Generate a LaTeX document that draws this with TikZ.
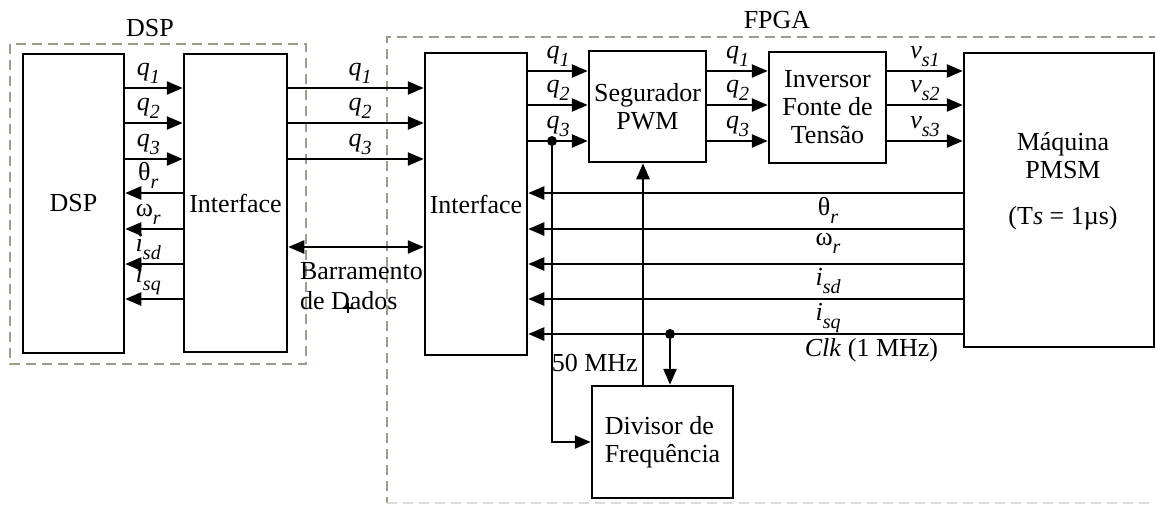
\documentclass[tikz,border=0pt]{standalone}
\usepackage{fontspec}
\setmainfont{Liberation Serif}
\usepackage{tikz}
\usetikzlibrary{arrows.meta,positioning,calc}
\definecolor{frame}{HTML}{9C9C8C}
\newcommand{\sig}[2]{{#1}\raisebox{-0.7ex}{\fontsize{10}{10}\selectfont\itshape #2}}

\begin{document}
\begin{tikzpicture}[x=0.5pt, y=-0.5pt,
  font=\fontsize{13}{14}\selectfont,
  blk/.style={draw, line width=1.25pt, align=center, inner sep=0pt},
  grp/.style={draw=frame, line width=0.8pt, dash pattern=on 5pt off 3pt},
  arr/.style={-{Triangle[length=8pt,width=6.5pt]}, line width=1.25pt},
  bus/.style={{Triangle[length=8pt,width=6.5pt]}-{Triangle[length=8pt,width=6.5pt]}, line width=1.25pt},
  sg/.style={inner sep=1.5pt, font=\fontsize{13}{14}\selectfont\itshape},
  dot/.style={circle, fill, inner sep=0pt, minimum size=5pt}
]
\useasboundingbox (0,0) rectangle (1155,505);
% group frames
\draw[grp] (10,44) rectangle (306,364);
\draw[grp] (1175,37) -- (387,37) -- (387,503);
\draw[grp, draw=frame!35] (387,503) -- (1175,503);
\node (tdsp) at (150,28) {DSP};
\node (tfpga) at (777,20) {FPGA};

% blocks
\node[blk, minimum width=50.5pt, minimum height=149.5pt] (dsp) at (73.5,203.5) {DSP};
\node[blk, minimum width=51.5pt, minimum height=149pt] (if1) at (235.5,203) {Interface};
\node[blk, minimum width=51pt, minimum height=151pt] (if2) at (476,204) {Interface};
\node[blk, minimum width=58.5pt, minimum height=55.5pt] (pwm) at (647.5,106.5) {Segurador\\PWM};
\node[blk, minimum width=58.5pt, minimum height=55.5pt] (inv) at (827.5,107.5) {Inversor\\Fonte de\\Tensão};
\node[blk, minimum width=95pt, minimum height=147pt] (mach) at (1059,200) {};
\node[align=center] (machlbl) at (1063,181) {Máquina\\PMSM\\[9pt](T\textit{s} = 1µs)};
\node[blk, minimum width=70.5pt, minimum height=56pt, align=left] (div) at (662.5,442) {Divisor de\\Frequência};

% signal rows
\coordinate (lq1) at (0,88);
\coordinate (lq2) at (0,123);
\coordinate (lq3) at (0,159);
\coordinate (lth) at (0,193);
\coordinate (lom) at (0,229);
\coordinate (lsd) at (0,264);
\coordinate (lsq) at (0,299);
\coordinate (lbus) at (0,247);
\coordinate (rq1) at (0,71);
\coordinate (rq2) at (0,105);
\coordinate (rq3) at (0,141);
\coordinate (rck) at (0,334);
\coordinate (c50) at (643,0);

% DSP <-> interface
\draw[arr] (dsp.east |- lq1) -- node[sg, above, pos=0.4] {\sig{q}{1}} (if1.west |- lq1);
\draw[arr] (dsp.east |- lq2) -- node[sg, above, pos=0.4] {\sig{q}{2}} (if1.west |- lq2);
\draw[arr] (dsp.east |- lq3) -- node[sg, above, pos=0.4] {\sig{q}{3}} (if1.west |- lq3);
\draw[arr] (if1.west |- lth) -- node[sg, above, pos=0.6] {\sig{\upshape θ}{r}} (dsp.east |- lth);
\draw[arr] (if1.west |- lom) -- node[sg, above, pos=0.6] {\sig{\upshape ω}{r}} (dsp.east |- lom);
\draw[arr] (if1.west |- lsd) -- node[sg, above, pos=0.6] {\sig{i}{sd}} (dsp.east |- lsd);
\draw[arr] (if1.west |- lsq) -- node[sg, above, pos=0.6] {\sig{i}{sq}} (dsp.east |- lsq);

% interface -> interface
\draw[arr] (if1.east |- lq1) -- node[sg, above, pos=0.53] {\sig{q}{1}} (if2.west |- lq1);
\draw[arr] (if1.east |- lq2) -- node[sg, above, pos=0.53] {\sig{q}{2}} (if2.west |- lq2);
\draw[arr] (if1.east |- lq3) -- node[sg, above, pos=0.53] {\sig{q}{3}} (if2.west |- lq3);
\draw[bus] (if1.east |- lbus) -- (if2.west |- lbus);
\node[anchor=north west, align=left, font=\fontsize{13}{15}\selectfont] (buslbl) at (293,255) {Barramento\\de Dados};
\draw[line width=0.6pt] (343,308) -- (353,308) (348,303) -- (348,313);

% FPGA chain
\draw[arr] (if2.east |- rq1) -- node[sg, above] {\sig{q}{1}} (pwm.west |- rq1);
\draw[arr] (if2.east |- rq2) -- node[sg, above] {\sig{q}{2}} (pwm.west |- rq2);
\draw[arr] (if2.east |- rq3) -- node[sg, above] {\sig{q}{3}} (pwm.west |- rq3);
\draw[arr] (pwm.east |- rq1) -- node[sg, above] {\sig{q}{1}} (inv.west |- rq1);
\draw[arr] (pwm.east |- rq2) -- node[sg, above] {\sig{q}{2}} (inv.west |- rq2);
\draw[arr] (pwm.east |- rq3) -- node[sg, above] {\sig{q}{3}} (inv.west |- rq3);
\draw[arr] (inv.east |- rq1) -- node[sg, above] {\sig{v}{s1}} (mach.west |- rq1);
\draw[arr] (inv.east |- rq2) -- node[sg, above] {\sig{v}{s2}} (mach.west |- rq2);
\draw[arr] (inv.east |- rq3) -- node[sg, above] {\sig{v}{s3}} (mach.west |- rq3);

% machine feedback
\draw[arr] (mach.west |- lth) -- node[sg, below, pos=0.31] {\sig{\upshape θ}{r}} (if2.east |- lth);
\draw[arr] (mach.west |- lom) -- node[sg, below, pos=0.31] {\sig{\upshape ω}{r}} (if2.east |- lom);
\draw[arr] (mach.west |- lsd) -- node[sg, below, pos=0.31] {\sig{i}{sd}} (if2.east |- lsd);
\draw[arr] (mach.west |- lsq) -- node[sg, below, pos=0.31] {\sig{i}{sq}} (if2.east |- lsq);
\draw[arr] (mach.west |- rck) -- node[below, pos=0.21, inner sep=1.5pt] {\textit{Clk} (1 MHz)} (if2.east |- rck);

% clock divider
\node[dot] (qd) at (552,141) {};
\node[dot] (ck) at (670,334) {};
\draw[arr] (qd) |- (div.west);
\draw[arr] (ck) -- (ck |- div.north);
\draw[arr] (div.north -| c50) -- node[left, pos=0.1, inner sep=2pt] {50 MHz} (pwm.south -| c50);
\end{tikzpicture}
\end{document}
